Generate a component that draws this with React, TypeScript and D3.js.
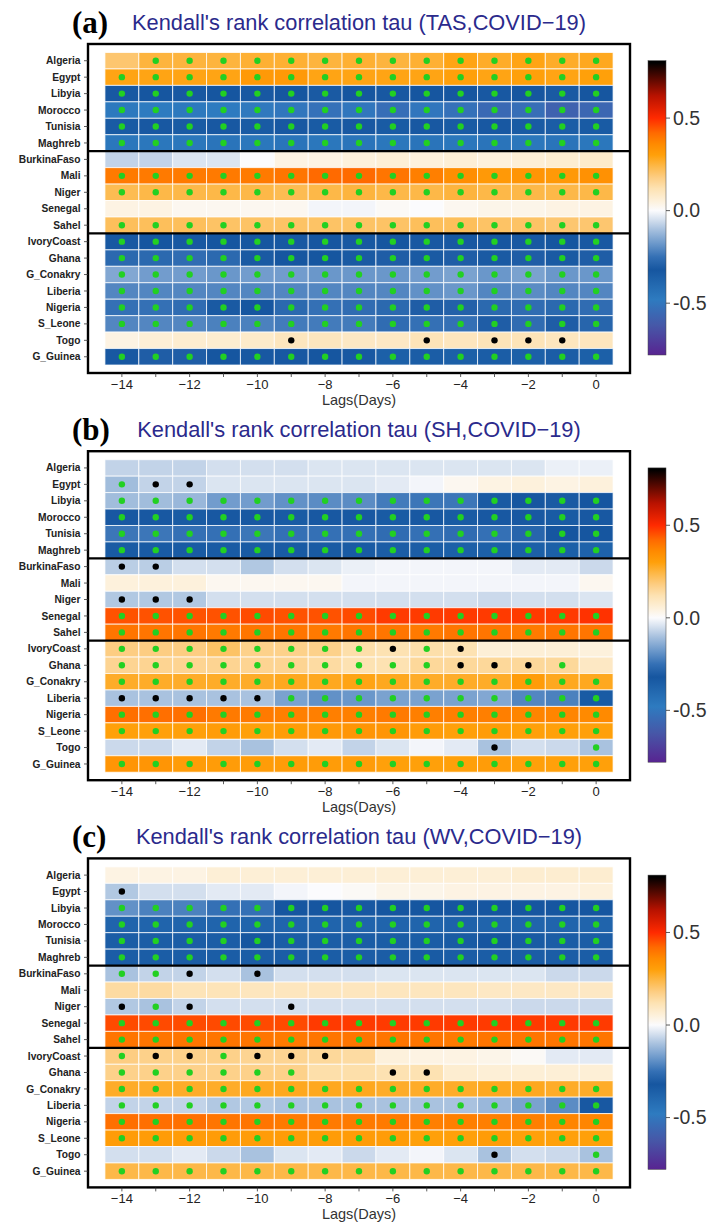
import React from 'react';
import * as d3 from 'd3';

// rows (top to bottom) and lags (columns)
const COUNTRIES = [
  'Algeria', 'Egypt', 'Libyia', 'Morocco', 'Tunisia', 'Maghreb',
  'BurkinaFaso', 'Mali', 'Niger', 'Senegal', 'Sahel',
  'IvoryCoast', 'Ghana', 'G_Conakry', 'Liberia', 'Nigeria', 'S_Leone', 'Togo', 'G_Guinea',
];
const LAGS = [-14, -13, -12, -11, -10, -9, -8, -7, -6, -5, -4, -3, -2, -1, 0];
const LAG_LABELS = [-14, -12, -10, -8, -6, -4, -2, 0];
const GROUP_ENDS = ['Maghreb', 'Sahel'];

const CB_DOMAIN = [-0.78, 0.81];
const CB_TICKS = [0.5, 0.0, -0.5];
const CB_TICK_LABELS = ['0.5', '0.0', '-0.5'];

const CMAP_STOPS = [-0.8, -0.62, -0.48, -0.4, -0.32, -0.25, -0.18, -0.1, -0.05, 0, 0.05, 0.12, 0.18, 0.24, 0.3, 0.36, 0.42, 0.5, 0.62, 0.8];
const CMAP_COLORS = ['#5a1e8e', '#4658a8', '#2e7bc0', '#2369b0', '#1656a0', '#3470b5', '#6a97ca', '#a9c2df', '#d3dfee', '#fbfbfd',
  '#fdf1dc', '#fde2b2', '#fdcd82', '#fdb848', '#ffa00a', '#ff8a00', '#ff6a00', '#ff2a00', '#b81200', '#000000'];

// g = significant (green dot), k = black dot, . = none
const ALL = 'ggggggggggggggg';
const NONE = '...............';

// (a) TAS
const TAU_TAS = [
  [0.20, 0.25, 0.25, 0.25, 0.26, 0.26, 0.25, 0.26, 0.25, 0.26, 0.29, 0.27, 0.29, 0.27, 0.28],
  [0.29, 0.29, 0.29, 0.29, 0.32, 0.32, 0.29, 0.29, 0.29, 0.29, 0.30, 0.29, 0.30, 0.29, 0.30],
  [-0.33, -0.32, -0.33, -0.32, -0.33, -0.32, -0.31, -0.32, -0.33, -0.32, -0.32, -0.33, -0.32, -0.31, -0.32],
  [-0.47, -0.48, -0.47, -0.48, -0.49, -0.50, -0.52, -0.50, -0.53, -0.50, -0.52, -0.55, -0.53, -0.58, -0.56],
  [-0.34, -0.33, -0.34, -0.33, -0.34, -0.33, -0.34, -0.33, -0.34, -0.33, -0.34, -0.33, -0.34, -0.35, -0.34],
  [-0.46, -0.46, -0.46, -0.45, -0.46, -0.45, -0.46, -0.45, -0.46, -0.45, -0.46, -0.45, -0.46, -0.45, -0.46],
  [-0.07, -0.07, -0.04, -0.04, 0.00, 0.04, 0.04, 0.05, 0.06, 0.05, 0.06, 0.05, 0.06, 0.07, 0.08],
  [0.39, 0.39, 0.39, 0.39, 0.39, 0.40, 0.42, 0.42, 0.40, 0.38, 0.35, 0.32, 0.33, 0.32, 0.34],
  [0.23, 0.24, 0.24, 0.24, 0.24, 0.23, 0.24, 0.25, 0.24, 0.24, 0.25, 0.24, 0.24, 0.24, 0.24],
  [0.04, 0.04, 0.02, 0.02, 0.02, 0.02, -0.01, -0.01, 0.01, 0.00, 0.02, 0.03, 0.03, 0.04, 0.04],
  [0.22, 0.22, 0.22, 0.21, 0.21, 0.21, 0.21, 0.21, 0.21, 0.22, 0.22, 0.21, 0.21, 0.20, 0.20],
  [-0.33, -0.32, -0.33, -0.32, -0.32, -0.33, -0.32, -0.33, -0.32, -0.33, -0.33, -0.32, -0.33, -0.32, -0.33],
  [-0.27, -0.27, -0.26, -0.27, -0.31, -0.32, -0.32, -0.31, -0.30, -0.31, -0.30, -0.31, -0.30, -0.31, -0.30],
  [-0.15, -0.17, -0.17, -0.18, -0.17, -0.17, -0.18, -0.18, -0.18, -0.17, -0.16, -0.18, -0.16, -0.18, -0.18],
  [-0.21, -0.21, -0.21, -0.21, -0.21, -0.21, -0.21, -0.21, -0.21, -0.19, -0.18, -0.21, -0.20, -0.21, -0.21],
  [-0.25, -0.25, -0.26, -0.31, -0.32, -0.27, -0.25, -0.26, -0.27, -0.30, -0.29, -0.27, -0.26, -0.27, -0.26],
  [-0.21, -0.21, -0.21, -0.22, -0.22, -0.23, -0.23, -0.23, -0.26, -0.25, -0.25, -0.30, -0.26, -0.30, -0.28],
  [0.04, 0.06, 0.07, 0.07, 0.08, 0.10, 0.10, 0.09, 0.09, 0.11, 0.10, 0.11, 0.11, 0.10, 0.10],
  [-0.33, -0.30, -0.30, -0.32, -0.33, -0.33, -0.32, -0.33, -0.36, -0.35, -0.36, -0.35, -0.36, -0.35, -0.36],
];
const SIG_TAS = [
  '.gggggggggggggg', ALL, ALL, ALL, ALL, ALL,
  NONE, ALL, ALL, NONE, ALL,
  ALL, ALL, ALL, ALL, ALL, ALL, '.....k...k.kkk.', ALL,
];

// (b) SH
const TAU_SH = [
  [-0.07, -0.07, -0.07, -0.05, -0.05, -0.05, -0.04, -0.04, -0.04, -0.04, -0.04, -0.04, -0.04, -0.02, -0.02],
  [-0.11, -0.07, -0.07, -0.04, -0.04, -0.04, -0.04, -0.04, -0.03, -0.01, 0.02, 0.04, 0.05, 0.04, 0.05],
  [-0.11, -0.11, -0.12, -0.17, -0.17, -0.19, -0.20, -0.20, -0.23, -0.24, -0.24, -0.31, -0.32, -0.31, -0.32],
  [-0.33, -0.33, -0.34, -0.33, -0.33, -0.34, -0.33, -0.33, -0.34, -0.33, -0.34, -0.33, -0.33, -0.34, -0.33],
  [-0.24, -0.24, -0.25, -0.25, -0.24, -0.25, -0.25, -0.25, -0.26, -0.25, -0.26, -0.25, -0.28, -0.32, -0.32],
  [-0.34, -0.34, -0.34, -0.34, -0.34, -0.34, -0.34, -0.34, -0.35, -0.35, -0.36, -0.36, -0.36, -0.36, -0.37],
  [-0.08, -0.08, -0.05, -0.05, -0.09, -0.05, -0.04, -0.02, -0.01, -0.01, -0.01, -0.01, -0.03, -0.03, -0.06],
  [0.05, 0.05, 0.05, 0.02, 0.02, 0.02, 0.02, -0.01, -0.01, -0.01, -0.01, -0.01, -0.01, -0.01, 0.02],
  [-0.09, -0.09, -0.09, -0.05, -0.05, -0.05, -0.05, -0.05, -0.05, -0.05, -0.05, -0.06, -0.05, -0.05, -0.04],
  [0.45, 0.45, 0.45, 0.45, 0.46, 0.45, 0.45, 0.46, 0.48, 0.48, 0.48, 0.48, 0.48, 0.48, 0.49],
  [0.40, 0.40, 0.40, 0.39, 0.40, 0.40, 0.39, 0.40, 0.40, 0.39, 0.40, 0.40, 0.39, 0.40, 0.40],
  [0.18, 0.18, 0.18, 0.21, 0.17, 0.17, 0.17, 0.13, 0.12, 0.13, 0.12, 0.06, 0.06, 0.06, 0.05],
  [0.16, 0.16, 0.16, 0.16, 0.16, 0.16, 0.14, 0.12, 0.12, 0.15, 0.15, 0.15, 0.15, 0.15, 0.09],
  [0.27, 0.27, 0.27, 0.27, 0.27, 0.28, 0.28, 0.29, 0.28, 0.27, 0.27, 0.27, 0.31, 0.28, 0.28],
  [-0.10, -0.10, -0.10, -0.10, -0.10, -0.16, -0.19, -0.18, -0.16, -0.16, -0.16, -0.15, -0.21, -0.22, -0.34],
  [0.41, 0.41, 0.41, 0.39, 0.39, 0.38, 0.38, 0.38, 0.39, 0.38, 0.38, 0.38, 0.37, 0.37, 0.36],
  [0.30, 0.30, 0.30, 0.31, 0.30, 0.31, 0.32, 0.33, 0.33, 0.31, 0.30, 0.31, 0.30, 0.30, 0.30],
  [-0.06, -0.06, -0.03, -0.07, -0.10, -0.05, -0.03, -0.07, -0.04, -0.01, -0.03, -0.10, -0.05, -0.06, -0.10],
  [0.33, 0.33, 0.31, 0.31, 0.31, 0.31, 0.31, 0.31, 0.30, 0.30, 0.30, 0.31, 0.30, 0.30, 0.30],
];
const SIG_SH = [
  NONE, 'gkk............', ALL, ALL, ALL, ALL,
  'kk.............', NONE, 'kkk............', ALL, ALL,
  'ggggggggkgk....', 'ggggggggggkkkg.', ALL, 'kkkkkgggggggggg', ALL, ALL, '...........k..g', ALL,
];

// (c) WV
const TAU_WV = [
  [0.04, 0.04, 0.04, 0.06, 0.06, 0.06, 0.06, 0.06, 0.06, 0.06, 0.06, 0.06, 0.07, 0.07, 0.07],
  [-0.09, -0.05, -0.05, -0.03, -0.03, -0.01, 0.00, 0.01, 0.03, 0.03, 0.04, 0.04, 0.04, 0.04, 0.05],
  [-0.19, -0.22, -0.22, -0.25, -0.25, -0.32, -0.32, -0.33, -0.32, -0.32, -0.32, -0.32, -0.32, -0.32, -0.32],
  [-0.38, -0.38, -0.38, -0.38, -0.38, -0.38, -0.38, -0.38, -0.38, -0.38, -0.37, -0.38, -0.38, -0.38, -0.38],
  [-0.35, -0.35, -0.35, -0.35, -0.32, -0.35, -0.35, -0.35, -0.35, -0.35, -0.34, -0.32, -0.34, -0.35, -0.35],
  [-0.35, -0.35, -0.35, -0.35, -0.35, -0.35, -0.35, -0.35, -0.35, -0.34, -0.35, -0.35, -0.35, -0.35, -0.35],
  [-0.10, -0.07, -0.07, -0.05, -0.10, -0.05, -0.05, -0.05, -0.04, -0.04, -0.04, -0.04, -0.04, -0.06, -0.06],
  [0.14, 0.14, 0.11, 0.11, 0.10, 0.10, 0.10, 0.10, 0.10, 0.10, 0.10, 0.09, 0.09, 0.09, 0.09],
  [-0.09, -0.10, -0.07, -0.05, -0.05, -0.05, -0.05, -0.05, -0.05, -0.05, -0.05, -0.05, -0.06, -0.06, -0.06],
  [0.46, 0.46, 0.46, 0.46, 0.46, 0.46, 0.48, 0.48, 0.48, 0.48, 0.48, 0.48, 0.48, 0.48, 0.48],
  [0.40, 0.40, 0.40, 0.40, 0.40, 0.39, 0.40, 0.40, 0.40, 0.40, 0.39, 0.40, 0.40, 0.40, 0.40],
  [0.18, 0.17, 0.17, 0.17, 0.16, 0.16, 0.15, 0.14, 0.05, 0.04, 0.04, 0.03, 0.01, -0.03, -0.03],
  [0.17, 0.17, 0.17, 0.17, 0.17, 0.17, 0.13, 0.13, 0.12, 0.12, 0.07, 0.06, 0.06, 0.06, 0.06],
  [0.27, 0.27, 0.27, 0.27, 0.28, 0.28, 0.28, 0.28, 0.27, 0.27, 0.27, 0.28, 0.28, 0.27, 0.27],
  [-0.07, -0.07, -0.07, -0.09, -0.09, -0.10, -0.10, -0.10, -0.10, -0.10, -0.10, -0.12, -0.16, -0.20, -0.33],
  [0.41, 0.41, 0.41, 0.40, 0.40, 0.39, 0.39, 0.39, 0.39, 0.38, 0.38, 0.38, 0.38, 0.37, 0.37],
  [0.31, 0.31, 0.31, 0.31, 0.31, 0.31, 0.31, 0.31, 0.31, 0.30, 0.30, 0.31, 0.30, 0.30, 0.30],
  [-0.05, -0.05, -0.03, -0.06, -0.10, -0.04, -0.03, -0.06, -0.03, -0.01, -0.04, -0.10, -0.05, -0.06, -0.10],
  [0.24, 0.24, 0.24, 0.24, 0.24, 0.24, 0.24, 0.24, 0.24, 0.24, 0.24, 0.24, 0.24, 0.24, 0.24],
];
const SIG_WV = [
  NONE, 'k..............', ALL, ALL, ALL, ALL,
  'ggk.k..........', NONE, 'kgk..k.........', ALL, ALL,
  'gkkgkkk........', 'gggggg..kk.....', ALL, ALL, ALL, ALL, '...........k..g', ALL,
];

const PANELS = [
  { tag: '(a)', title: "Kendall's rank correlation tau (TAS,COVID\u221219)", tau: TAU_TAS, sig: SIG_TAS },
  { tag: '(b)', title: "Kendall's rank correlation tau (SH,COVID\u221219)", tau: TAU_SH, sig: SIG_SH },
  { tag: '(c)', title: "Kendall's rank correlation tau (WV,COVID\u221219)", tau: TAU_WV, sig: SIG_WV },
];

const W = 713;
const H = 1223;
const PANEL_STEP = 407.2;
const FRAME = { left: 88, right: 630, top: 44, bottom: 373 };
const SANS = "'Liberation Sans', Arial, sans-serif";

const color = d3.scaleLinear<string>().domain(CMAP_STOPS).range(CMAP_COLORS).clamp(true);

const fmtLag = (t: number) => (t < 0 ? `\u2212${-t}` : `${t}`);

const Panel: React.FC<{ idx: number; top: number }> = ({ idx, top }) => {
  const p = PANELS[idx];
  const x = d3.scaleLinear().domain([-15, 1]).range([FRAME.left, FRAME.right]);
  const y = d3.scaleBand<string>().domain(COUNTRIES).range([52.5, 365]);
  const cw = x(0.5) - x(-0.5);
  const bh = y.bandwidth();

  const cb = d3.scaleLinear().domain(CB_DOMAIN).range([355, 60.7]);
  const gradId = `cbgrad-${idx}`;
  const [d0, d1] = CB_DOMAIN;
  const gradStops = [d0, ...CMAP_STOPS.filter(v => v > d0 && v < d1), d1];

  return (
    <g transform={`translate(0,${top})`}>
      <text x={72} y={33} fontFamily="'Liberation Serif', 'Times New Roman', serif" fontWeight="bold" fontSize={31}>
        {p.tag}
      </text>
      <text x={359} y={30} textAnchor="middle" fontFamily={SANS} fontSize={21.8} fill="#2b2a8c">
        {p.title}
      </text>

      {/* cells */}
      {COUNTRIES.map((c, r) =>
        LAGS.map((lag, j) => (
          <rect
            key={`${c}-${lag}`}
            x={x(lag - 0.5)}
            y={y(c)}
            width={cw}
            height={bh}
            fill={color(p.tau[r][j])}
            stroke="#ffffff"
            strokeOpacity={0.75}
            strokeWidth={1}
          />
        ))
      )}

      {/* significance dots */}
      {COUNTRIES.map((c, r) =>
        LAGS.map((lag, j) => {
          const s = p.sig[r][j];
          if (s === '.') return null;
          return (
            <circle
              key={`d-${c}-${lag}`}
              cx={x(lag)}
              cy={(y(c) as number) + bh / 2}
              r={3.2}
              fill={s === 'g' ? '#22d022' : '#000000'}
            />
          );
        })
      )}

      {/* frame and group dividers */}
      <rect x={FRAME.left} y={FRAME.top} width={FRAME.right - FRAME.left} height={FRAME.bottom - FRAME.top}
        fill="none" stroke="#000" strokeWidth={2.4} />
      {GROUP_ENDS.map(g => {
        const yy = (y(g) as number) + bh;
        return <line key={g} x1={FRAME.left} x2={FRAME.right} y1={yy} y2={yy} stroke="#000" strokeWidth={2.2} />;
      })}

      {/* y axis */}
      {COUNTRIES.map(c => {
        const yy = (y(c) as number) + bh / 2;
        return (
          <g key={`y-${c}`}>
            <line x1={84} x2={FRAME.left} y1={yy} y2={yy} stroke="#333" strokeWidth={0.8} />
            <text x={80.5} y={yy} dy="0.35em" textAnchor="end" fontFamily={SANS} fontWeight="bold" fontSize={10.2} fill="#222">
              {c}
            </text>
          </g>
        );
      })}

      {/* x axis */}
      {LAGS.map(l => (
        <line key={`xt-${l}`} x1={x(l)} x2={x(l)} y1={FRAME.bottom} y2={FRAME.bottom + 4} stroke="#333" strokeWidth={0.8} />
      ))}
      {LAG_LABELS.map(l => (
        <text key={`xl-${l}`} x={x(l)} y={FRAME.bottom + 16} textAnchor="middle" fontFamily={SANS} fontSize={13} fill="#222">
          {fmtLag(l)}
        </text>
      ))}
      <text x={(FRAME.left + FRAME.right) / 2} y={FRAME.bottom + 32} textAnchor="middle" fontFamily={SANS} fontSize={14.5} fill="#333">
        Lags(Days)
      </text>

      {/* colour bar */}
      <defs>
        <linearGradient id={gradId} x1="0" y1="1" x2="0" y2="0">
          {gradStops.map(v => (
            <stop key={v} offset={(v - d0) / (d1 - d0)} stopColor={color(v)} />
          ))}
        </linearGradient>
      </defs>
      <rect x={648} y={cb(d1)} width={18} height={cb(d0) - cb(d1)} fill={`url(#${gradId})`} stroke="#444" strokeWidth={0.5} />
      {CB_TICKS.map((t, i) => (
        <g key={`cb-${t}`}>
          <line x1={666} x2={670} y1={cb(t)} y2={cb(t)} stroke="#333" strokeWidth={0.8} />
          <text x={673} y={cb(t)} dy="0.35em" fontFamily={SANS} fontSize={19.5} fill="#333">
            {CB_TICK_LABELS[i]}
          </text>
        </g>
      ))}
    </g>
  );
};

export default function App() {
  return (
    <svg width={W} height={H} style={{ position: 'absolute', left: 0, top: 0, background: '#fff' }}>
      {PANELS.map((p, i) => (
        <Panel key={p.tag} idx={i} top={i * PANEL_STEP} />
      ))}
    </svg>
  );
}
